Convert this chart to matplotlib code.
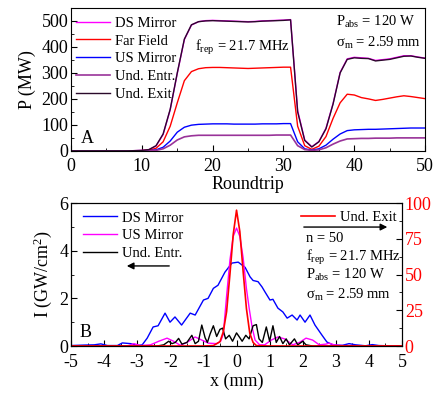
import matplotlib
matplotlib.use("Agg")
import matplotlib.pyplot as plt
from matplotlib.ticker import MultipleLocator

plt.rcParams["font.family"] = ["Liberation Serif", "DejaVu Serif"]
plt.rcParams["mathtext.fontset"] = "custom"
plt.rcParams["mathtext.rm"] = "Liberation Serif"
plt.rcParams["mathtext.it"] = "Liberation Serif:italic"
plt.rcParams["xtick.direction"] = "in"
plt.rcParams["ytick.direction"] = "in"
plt.rcParams["axes.unicode_minus"] = False

# --- panel A: power vs roundtrip ---
roundtrip = list(range(0, 51))
und_exit = [0, 0, 0, 0, 0, 0, 0, 0, 0, 1, 2, 5, 20, 65, 160, 300, 430, 485, 497, 500,
            501, 500, 499, 498, 497, 496, 497, 499, 500, 501, 502, 504, 150, 40, 15, 35,
            85, 180, 300, 352, 358, 356, 355, 346, 349, 352, 358, 364, 365, 360, 356]
ds_mirror = [0, 0, 0, 0, 0, 0, 0, 0, 0, 1, 2, 5, 19, 63, 158, 298, 428, 484, 497, 501,
             502, 501, 500, 499, 498, 497, 498, 500, 501, 502, 503, 505, 155, 42, 16, 36,
             87, 182, 302, 354, 360, 358, 356, 348, 351, 354, 360, 366, 366, 361, 357]
far_field = [0, 0, 0, 0, 0, 0, 0, 0, 0, 0, 1, 3, 10, 35, 95, 185, 270, 305, 316, 320,
             321, 321, 320, 319, 318, 317, 318, 319, 320, 321, 322, 322, 95, 20, 6, 18,
             55, 125, 185, 218, 215, 205, 200, 194, 198, 203, 208, 212, 209, 205, 201]
us_mirror = [0, 0, 0, 0, 0, 0, 0, 0, 0, 0, 0, 1, 4, 14, 38, 72, 91, 99, 102, 103,
             104, 104, 104, 103, 103, 103, 103, 104, 104, 104, 105, 105, 35, 8, 3, 8,
             22, 45, 65, 78, 81, 82, 83, 83, 84, 85, 86, 87, 88, 88, 88]
und_entr = [0, 0, 0, 0, 0, 0, 0, 0, 0, 0, 0, 0, 2, 8, 22, 42, 54, 58, 60, 60,
            60, 60, 60, 60, 60, 60, 60, 60, 60, 61, 61, 61, 20, 5, 2, 4,
            12, 26, 38, 46, 47, 48, 48, 49, 49, 49, 50, 50, 50, 50, 50]

# --- panel B: transverse intensity profiles ---
x_ds = [-5.0, -4.6, -4.3, -4.1, -3.9, -3.6, -3.45, -3.2, -3.0, -2.85, -2.7, -2.52, -2.37,
        -2.16, -2.01, -1.86, -1.66, -1.4, -1.25, -1.0, -0.86, -0.7, -0.56, -0.35, -0.14,
        0.05, 0.26, 0.41, 0.5, 0.65, 0.77, 0.86, 1.01, 1.1, 1.25, 1.4, 1.53, 1.68, 1.83,
        1.92, 2.07, 2.22, 2.37, 2.58, 2.73, 2.92, 3.2, 3.4, 3.6, 3.9, 4.1, 4.3, 4.6, 5.0]
i_ds = [0.02, 0.04, 0.05, 0.09, 0.02, 0.02, 0.13, 0.1, 0.02, 0.05, 0.33, 0.8, 0.85,
        1.38, 1.0, 1.22, 0.88, 1.38, 1.3, 1.93, 2.0, 2.42, 2.55, 3.1, 3.48,
        3.52, 3.3, 2.9, 2.75, 2.7, 2.48, 2.27, 1.93, 1.96, 1.59, 1.43, 1.17, 1.3, 1.09,
        1.3, 1.0, 1.3, 0.88, 0.46, 0.17, 0.04, 0.03, 0.1, 0.05, 0.01, 0.06, 0.02, 0.01, 0.0]

x_us = [-5.0, -3.3, -3.1, -2.9, -2.6, -2.35, -2.1, -1.9, -1.7, -1.5, -1.25, -1.05, -0.85,
        -0.6, -0.48, -0.4, -0.3, -0.2, -0.1, 0.0, 0.1, 0.2, 0.3, 0.38, 0.47, 0.56, 0.7,
        0.85, 1.05, 1.25, 1.45, 1.7, 1.9, 2.1, 2.3, 2.5, 2.7, 2.8, 2.95, 3.2, 5.0]
i_us = [0.0, 0.0, 0.1, 0.02, 0.05, 0.2, 0.33, 0.2, 0.03, 0.15, 0.38, 0.25, 0.12,
        0.1, 0.2, 0.5, 2.1, 3.6, 4.6, 4.95, 4.6, 3.7, 2.4, 1.6, 0.8, 0.25, 0.05,
        0.05, 0.25, 0.38, 0.3, 0.05, 0.15, 0.33, 0.25, 0.05, 0.08, 0.12, 0.05, 0.02, 0.0]

x_entr = [-5.0, -2.4, -2.2, -2.05, -1.95, -1.85, -1.75, -1.65, -1.5, -1.35, -1.25, -1.15,
          -1.05, -0.95, -0.88, -0.8, -0.7, -0.6, -0.5, -0.42, -0.33, -0.22, -0.12, 0.0,
          0.1, 0.17, 0.28, 0.38, 0.5, 0.6, 0.68, 0.78, 0.9, 1.0, 1.1, 1.2, 1.3, 1.4, 1.5,
          1.6, 1.75, 1.85, 2.0, 2.1, 2.3, 5.0]
i_entr = [0.0, 0.0, 0.05, 0.2, 0.1, 0.15, 0.32, 0.08, 0.15, 0.45, 0.1, 0.2,
          0.88, 0.35, 0.15, 0.5, 0.85, 0.4, 0.7, 0.75, 0.3, 0.45, 0.2, 0.55,
          0.35, 0.2, 0.45, 0.3, 0.85, 0.9, 0.3, 0.15, 0.8, 0.2, 0.85, 0.15, 0.4, 0.1, 0.3,
          0.05, 0.3, 0.05, 0.2, 0.05, 0.0, 0.0]

x_exit = [-5.0, -1.0, -0.7, -0.5, -0.4, -0.3, -0.2, -0.1, 0.0, 0.1, 0.2, 0.3, 0.4, 0.5,
          0.6, 1.0, 5.0]
i_exit = [0, 0, 0.3, 3, 10, 24, 50, 78, 95, 80, 52, 26, 9, 2.5, 0.3, 0, 0]

fig = plt.figure(figsize=(4.36, 3.95), dpi=100)
ax1 = fig.add_axes([0.163, 0.618, 0.812, 0.362])
ax2 = fig.add_axes([0.163, 0.124, 0.759, 0.362])

fs_txt = 10.5

# panel A
ax1.plot(roundtrip, ds_mirror, color="#ff00ff", lw=1, label="DS Mirror")
ax1.plot(roundtrip, far_field, color="red", lw=1, label="Far Field")
ax1.plot(roundtrip, us_mirror, color="blue", lw=1, label="US Mirror")
ax1.plot(roundtrip, und_entr, color="#993399", lw=1.2, label="Und. Entr.")
ax1.plot(roundtrip, und_exit, color="#2a0a2a", lw=1, label="Und. Exit")
ax1.set_xlim(0, 50)
ax1.set_ylim(0, 550)
ax1.xaxis.set_major_locator(MultipleLocator(10))
ax1.xaxis.set_minor_locator(MultipleLocator(5))
ax1.yaxis.set_major_locator(MultipleLocator(100))
ax1.yaxis.set_minor_locator(MultipleLocator(50))
ax1.tick_params(labelsize=13, length=4, width=0.8, pad=2)
ax1.tick_params(axis="x", pad=5)
ax1.tick_params(which="minor", length=2.5)
ax1.set_xlabel("Roundtrip", fontsize=13, labelpad=1)
ax1.set_ylabel("P (MW)", fontsize=13, labelpad=4)
ax1.legend(loc="upper left", bbox_to_anchor=(0.014, 0.94), frameon=False, fontsize=fs_txt,
           handlelength=2.3, handletextpad=0.4, labelspacing=0.32, borderpad=0,
           borderaxespad=0)
ax1.text(0.35, 0.72, r"f$_{\rm rep}$ = 21.7 MHz", transform=ax1.transAxes, fontsize=fs_txt,
         va="center")
ax1.text(0.749, 0.905, r"P$_{\rm abs}$ = 120 W", transform=ax1.transAxes, fontsize=fs_txt,
         va="center")
ax1.text(0.749, 0.755, r"σ$_{\rm m}$ = 2.59 mm", transform=ax1.transAxes, fontsize=fs_txt,
         va="center")
ax1.text(0.027, 0.09, "A", transform=ax1.transAxes, fontsize=13, va="center")

# panel B
ax2.plot(x_ds, i_ds, color="blue", lw=1, label="DS Mirror")
ax2.plot(x_us, i_us, color="#ff00ff", lw=1, label="US Mirror")
ax2.plot(x_entr, i_entr, color="black", lw=1, label="Und. Entr.")
ax2.set_xlim(-5, 5)
ax2.set_ylim(0, 6)
ax2.xaxis.set_major_locator(MultipleLocator(1))
ax2.xaxis.set_minor_locator(MultipleLocator(0.5))
ax2.yaxis.set_major_locator(MultipleLocator(2))
ax2.yaxis.set_minor_locator(MultipleLocator(1))
ax2.tick_params(labelsize=13, length=4, width=0.8, pad=2)
ax2.tick_params(axis="x", pad=6)
ax2.tick_params(which="minor", length=2.5)
ax2.set_xlabel("x (mm)", fontsize=13, labelpad=1)
ax2.set_ylabel(r"I (GW/cm$^2$)", fontsize=13, labelpad=4)
ax2.legend(loc="upper left", bbox_to_anchor=(0.036, 0.942), frameon=False, fontsize=fs_txt,
           handlelength=2.3, handletextpad=0.4, labelspacing=0.32, borderpad=0,
           borderaxespad=0)

ax3 = ax2.twinx()
ax3.plot(x_exit, i_exit, color="red", lw=1.2, label="Und. Exit")
ax3.set_ylim(0, 100)
ax3.yaxis.set_major_locator(MultipleLocator(25))
ax3.yaxis.set_minor_locator(MultipleLocator(12.5))
ax3.tick_params(axis="y", labelsize=13, length=4, width=0.8, pad=2, labelcolor="red")
ax3.tick_params(which="minor", length=2.5)
ax3.legend(loc="upper left", bbox_to_anchor=(0.695, 0.947), frameon=False, fontsize=fs_txt,
           handlelength=2.3, handletextpad=0.4, borderpad=0, borderaxespad=0)

ax2.annotate("", xy=(0.16, 0.56), xytext=(0.305, 0.56), xycoords="axes fraction",
             arrowprops=dict(arrowstyle="-|>", color="black", lw=1, mutation_scale=10))
ax2.annotate("", xy=(0.964, 0.832), xytext=(0.695, 0.832), xycoords="axes fraction",
             arrowprops=dict(arrowstyle="-|>", color="black", lw=1, mutation_scale=10))

ax2.text(0.71, 0.755, "n = 50", transform=ax2.transAxes, fontsize=fs_txt, va="center")
ax2.text(0.71, 0.622, r"f$_{\rm rep}$ = 21.7 MHz", transform=ax2.transAxes, fontsize=fs_txt,
         va="center")
ax2.text(0.71, 0.497, r"P$_{\rm abs}$ = 120 W", transform=ax2.transAxes, fontsize=fs_txt,
         va="center")
ax2.text(0.71, 0.357, r"σ$_{\rm m}$ = 2.59 mm", transform=ax2.transAxes, fontsize=fs_txt,
         va="center")
ax2.text(0.027, 0.098, "B", transform=ax2.transAxes, fontsize=13, va="center")

fig.savefig("out.png", dpi=100)
